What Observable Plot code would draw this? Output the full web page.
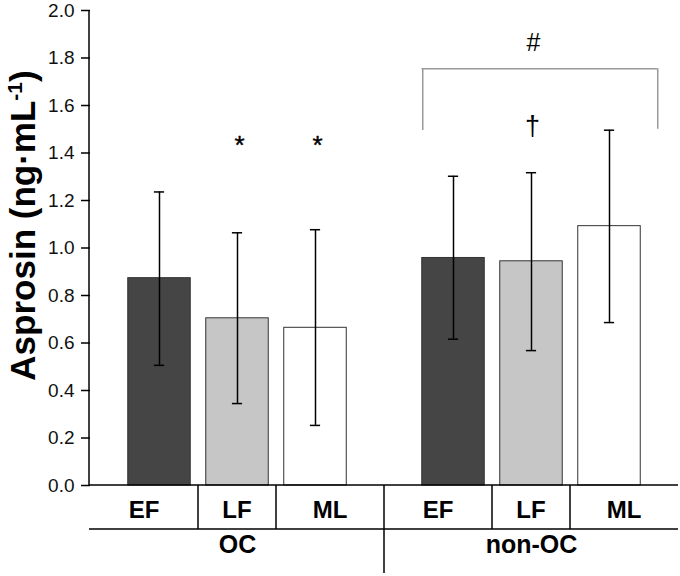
<!DOCTYPE html>
<html><head><meta charset="utf-8">
<script src="https://cdn.jsdelivr.net/npm/d3@7"></script>
<script src="https://cdn.jsdelivr.net/npm/@observablehq/plot@0.6"></script>
<style>body{margin:0;background:#fff}</style>
</head><body><div id="chart"></div>
<script>
// ---- data ----
const groups = ["OC", "non-OC"];
const conditions = ["EF", "LF", "ML"];
const means = [0.873, 0.704, 0.664, 0.958, 0.944, 1.092];
const upper = [1.236, 1.064, 1.077, 1.302, 1.317, 1.496];
const lower = [0.506, 0.345, 0.253, 0.616, 0.568, 0.686];
const yTicks = [0, 0.2, 0.4, 0.6, 0.8, 1.0, 1.2, 1.4, 1.6, 1.8, 2.0];
const barColors = ["#454545", "#c6c6c6", "#ffffff"];
const stars = [{group: "OC", cond: "LF", text: "*", y: 1.43}, {group: "OC", cond: "ML", text: "*", y: 1.43}];
const daggers = [{group: "non-OC", cond: "LF", text: "†", y: 1.514}];
const hashes = [{group: "non-OC", cond: "LF", text: "#", y: 1.864}];
const brackets = [{group: "non-OC", from: "EF", to: "ML", top: 1.755, leftEnd: 1.495, rightEnd: 1.50}];

const data = groups.flatMap((g, gi) => conditions.map((c, ci) => ({
  group: g, cond: c, mean: means[gi * 3 + ci], hi: upper[gi * 3 + ci], lo: lower[gi * 3 + ci]
})));

const font = "'Liberation Sans', Arial, Helvetica, sans-serif";
const plot = Plot.plot({
  width: 680, height: 576,
  marginLeft: 89, marginRight: 2, marginTop: 10, marginBottom: 91,
  style: {fontFamily: font, background: "#fff", overflow: "visible"},
  fx: {domain: groups, padding: 0, axis: null, label: null},
  x: {domain: conditions, paddingInner: 0, paddingOuter: 0.376, axis: null, label: null},
  y: {domain: [0, 2], axis: null},
  color: {domain: conditions, range: barColors},
  marks: [
    Plot.barY(data, {fx: "group", x: "cond", y: "mean", fill: "cond", stroke: "#333", strokeWidth: 1, insetLeft: 7.75, insetRight: 7.75}),
    Plot.ruleX(data, {fx: "group", x: "cond", y1: "lo", y2: "hi", stroke: "#000", strokeWidth: 1.5}),
    Plot.tickY(data, {fx: "group", x: "cond", y: "hi", stroke: "#000", strokeWidth: 1.5, insetLeft: 33.9, insetRight: 33.9}),
    Plot.tickY(data, {fx: "group", x: "cond", y: "lo", stroke: "#000", strokeWidth: 1.5, insetLeft: 33.9, insetRight: 33.9}),
    Plot.axisY({ticks: yTicks, tickFormat: d3.format(".1f"), tickSize: 9, tickPadding: 7, fontSize: 19, label: null, strokeWidth: 1.5, fill: "#111"}),
    Plot.text(stars, {fx: "group", x: "cond", y: "y", text: "text", fontSize: 26, dx: 2, fill: "#000", stroke: "#000", strokeWidth: 0.4}),
    Plot.text(daggers, {fx: "group", x: "cond", y: "y", text: "text", fontSize: 27, dx: 1, fill: "#000"}),
    Plot.text(hashes, {fx: "group", x: "cond", y: "y", text: "text", fontSize: 25, dx: 2, fill: "#000"}),
    Plot.ruleY(brackets, {fx: "group", y: "top", insetLeft: 37.5, insetRight: 21, stroke: "#999", strokeWidth: 1.5}),
    Plot.ruleX(brackets, {fx: "group", x: "from", y1: "leftEnd", y2: "top", dx: -30.75, stroke: "#999", strokeWidth: 1.5}),
    Plot.ruleX(brackets, {fx: "group", x: "to", y1: "rightEnd", y2: "top", dx: 48.25, stroke: "#999", strokeWidth: 1.5}),
    Plot.text(groups, {fx: d => d, text: d => d, frameAnchor: "bottom", dy: 67.6, fontSize: 25, fontWeight: "bold", fill: "#000"})
  ]
});

document.getElementById("chart").appendChild(plot);

// axis line and category table drawn from the plot's own scales
const svg = d3.select(plot);
const fxS = plot.scale("fx"), xS = plot.scale("x"), yS = plot.scale("y");
const x0 = xS.range[0];
const absX = (g, c) => fxS.apply(g) + xS.apply(c) - x0;
const left = fxS.range[0], right = fxS.range[1];
const yBase = yS.apply(0), yTop = yS.apply(2);
const rowH = 44;
const gL = svg.append("g").attr("stroke", "#000").attr("stroke-width", 1.5).attr("fill", "none");
gL.append("line").attr("x1", left).attr("x2", left).attr("y1", yTop).attr("y2", yBase);
gL.append("line").attr("x1", left).attr("x2", right).attr("y1", yBase).attr("y2", yBase);
gL.append("line").attr("x1", left).attr("x2", right).attr("y1", yBase + rowH).attr("y2", yBase + rowH);
groups.forEach(g => conditions.slice(1).forEach(c => {
  const x = absX(g, c);
  gL.append("line").attr("x1", x).attr("x2", x).attr("y1", yBase).attr("y2", yBase + rowH);
}));
groups.slice(1).forEach(g => {
  const x = fxS.apply(g);
  gL.append("line").attr("x1", x).attr("x2", x).attr("y1", yBase).attr("y2", yBase + 2 * rowH);
});

// condition labels centred in their table cells
const gT = svg.append("g").attr("font-family", font).attr("font-size", 24).attr("font-weight", "bold")
  .attr("fill", "#000").attr("text-anchor", "middle");
groups.forEach(g => {
  const edges = [fxS.apply(g), ...conditions.slice(1).map(c => absX(g, c)), fxS.apply(g) + fxS.bandwidth];
  conditions.forEach((c, i) => {
    gT.append("text").attr("x", (edges[i] + edges[i + 1]) / 2).attr("y", yBase + 25.4).attr("dy", "0.32em").text(c);
  });
});

// y label with superscript
const lab = svg.append("text")
  .attr("transform", `translate(35,${(yTop + yBase) / 2 - 22}) rotate(-90)`)
  .attr("text-anchor", "middle").attr("font-family", font)
  .attr("font-size", 35).attr("font-weight", "bold").attr("fill", "#000");
lab.append("tspan").text("Asprosin (ng·mL");
lab.append("tspan").attr("font-size", 21).attr("dy", -13).text("-1");
lab.append("tspan").attr("dy", 13).text(")");
</script>
</body></html>
